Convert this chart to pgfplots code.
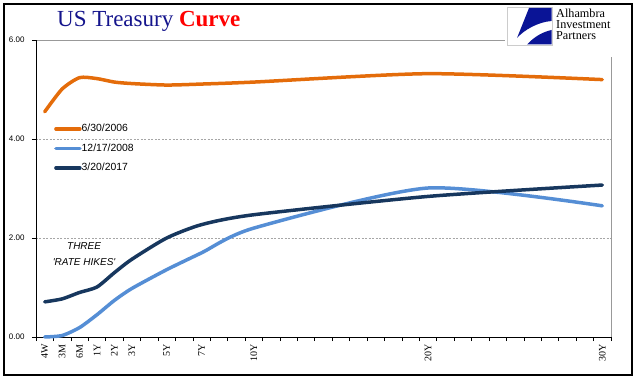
\documentclass[border=0pt]{standalone}
\usepackage{pgfplots}
\pgfplotsset{compat=1.18}
\usepackage{fontspec}
\setmainfont{Liberation Serif}
\newfontfamily\arial{Liberation Sans}
\definecolor{cOrange}{RGB}{228,108,10}
\definecolor{cLight}{RGB}{85,142,213}
\definecolor{cNavy}{RGB}{23,55,94}
\definecolor{titleblue}{RGB}{20,20,140}
\definecolor{logoblue}{RGB}{10,20,150}
\begin{document}
\begin{tikzpicture}
\useasboundingbox (0pt,0pt) rectangle (641pt,381pt);
\begin{axis}[
  at={(36pt,44pt)}, anchor=south west,
  scale only axis, width=575pt, height=297pt,
  xmin=-0.5, xmax=32.5, ymin=0, ymax=6,
  clip=false,
  axis line style={draw=none},
  tick pos=left, tick align=outside, major tick length=4pt,
  tick style={black, line width=0.6pt},
  xtick={-0.5,0.5,...,32.5}, xticklabels={},
  extra x ticks={0,1,2,3,4,5,7,9,12,22,32},
  extra x tick labels={4W,3M,6M,1Y,2Y,3Y,5Y,7Y,10Y,20Y,30Y},
  extra x tick style={major tick length=0pt, grid=none,
     tick label style={rotate=90, anchor=east, font=\fontsize{10}{10}\selectfont, yshift=0pt, xshift=-4pt}},
  ytick={0,2,4,6},
  ymajorgrids, grid style={gray!70, line width=0.5pt, dash pattern=on 2pt off 1.5pt},
  yticklabel style={font=\arial\fontsize{8}{8}\selectfont, xshift=-4pt,
     /pgf/number format/fixed, /pgf/number format/fixed zerofill,
     /pgf/number format/precision=2, /pgf/number format/assume math mode=true},
  legend style={at={(0.0313,0.635)}, anchor=west, draw=none, fill=none,
     inner sep=0pt, row sep=10pt, font=\arial\fontsize{10.4}{10.4}\selectfont,
     nodes={inner sep=0pt, text height=7.5pt, text depth=2pt}},
  legend cell align=left,
  legend image code/.code={\draw[#1, line width=3.5pt, line cap=round] (0pt,0pt) -- (24pt,0pt);},
  every axis plot/.append style={line width=3.5pt, line cap=round, line join=round, smooth, tension=0.4, mark=none},
]
\draw[gray!80, line width=0.8pt] (rel axis cs:0,1) -- (rel axis cs:1,1) -- (rel axis cs:1,0);
\draw[black, line width=0.8pt] (rel axis cs:0,1) -- (rel axis cs:0,0) -- (rel axis cs:1,0);
\addplot[cOrange] coordinates {(0,4.55)(1,5.01)(2,5.24)(3,5.22)(4,5.15)(5,5.12)(7,5.09)(9,5.11)(12,5.15)(22,5.32)(32,5.20)};
\addplot[cLight] coordinates {(0,0.00)(1,0.03)(2,0.19)(3,0.45)(4,0.74)(5,0.98)(7,1.36)(9,1.70)(12,2.20)(22,3.01)(32,2.65)};
\addplot[cNavy] coordinates {(0,0.71)(1,0.77)(2,0.90)(3,1.01)(4,1.30)(5,1.57)(7,2.00)(9,2.27)(12,2.47)(22,2.84)(32,3.07)};
\legend{6/30/2006,12/17/2008,3/20/2017}
\node[font=\arial\itshape\fontsize{10}{16}\selectfont, align=center] at (axis cs:2.26,1.68) {THREE\\'RATE HIKES'};
\end{axis}
\begin{scope}[x=1pt,y=-1pt,yshift=381pt]
  \draw[black, line width=1.5pt] (4,4) rectangle (632,375);
  \fill[white] (505,6) rectangle (630.5,57);
  \draw[gray!40, line width=0.6pt, fill=white] (507,7) rectangle (552,45);
  \fill[logoblue] (529,8) -- (551.5,8) -- (551.5,21) .. controls (538,22) and (524,30) .. (517,38) -- cycle;
  \fill[logoblue] (527,44.5) .. controls (535,36) and (543,32) .. (551.5,30) -- (551.5,44.5) -- cycle;
  \node[anchor=base west, inner sep=0pt, font=\fontsize{12.2}{12.2}\selectfont] at (556,17.5) {Alhambra};
  \node[anchor=base west, inner sep=0pt, font=\fontsize{12.2}{12.2}\selectfont] at (556,28.8) {Investment};
  \node[anchor=base west, inner sep=0pt, font=\fontsize{12.2}{12.2}\selectfont] at (556,40) {Partners};
  \node[anchor=base west, inner sep=0pt, font=\fontsize{23}{23}\selectfont] at (57,27) {\color{titleblue}US Treasury \textbf{\color{red}Curve}};
\end{scope}
\end{tikzpicture}
\end{document}
